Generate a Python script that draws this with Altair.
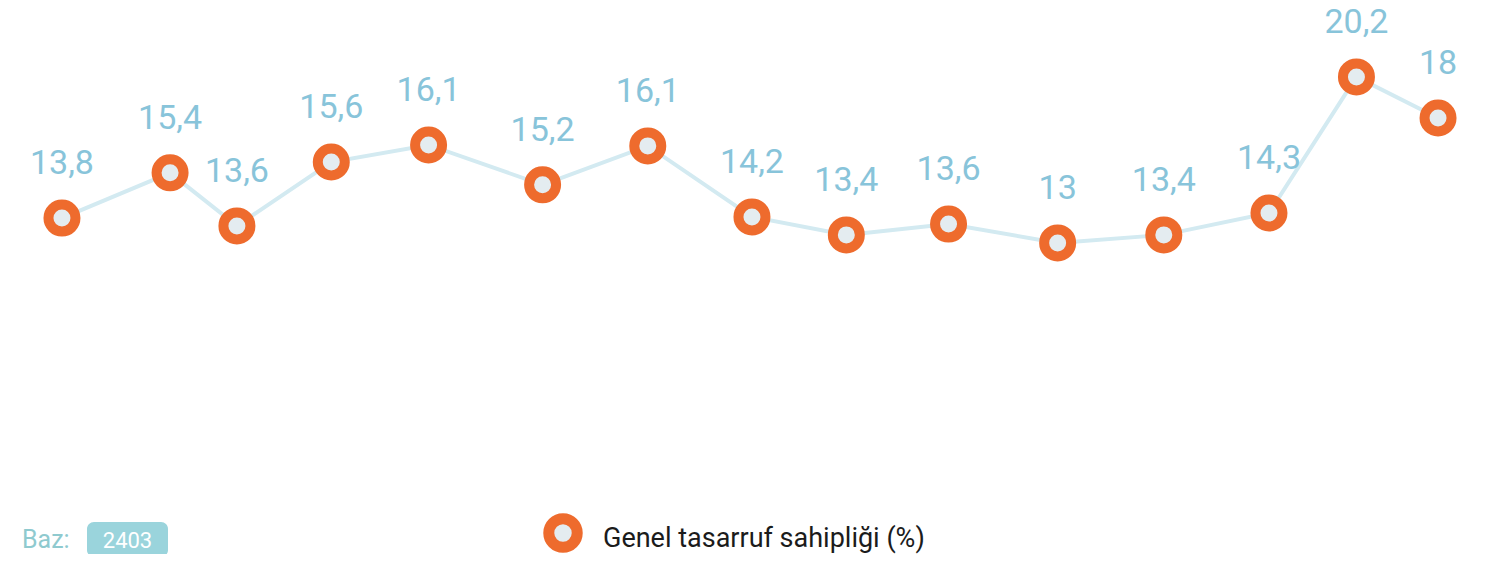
import altair as alt
import pandas as pd

# Data
period = [0, 1.10, 1.78, 2.74, 3.73, 4.89, 5.96, 7.02, 7.98, 9.02, 10.13, 11.21, 12.28, 13.17, 14.0]
label_values = [13.8, 15.4, 13.6, 15.6, 16.1, 15.2, 16.1, 14.2, 13.4, 13.6, 13, 13.4, 14.3, 20.2, 18]
plot_levels = [14.08, 16.04, 13.74, 16.51, 17.25, 15.52, 17.21, 14.13, 13.35, 13.82, 13.0, 13.35, 14.30, 20.2, 18.42]
series_name = "Genel tasarruf sahipliği (%)"
base_label = "Baz:"
base_value = "2403"

df = pd.DataFrame({
    "period": period,
    "level": plot_levels,
    "label": [f"{v:g}".replace(".", ",") for v in label_values],
})

W, H = 1472, 546
xs = alt.Scale(domain=[-0.549, 14.427], nice=False, zero=False)
ys = alt.Scale(domain=[-0.49, 23.19], nice=False, zero=False)

FONT = "Roboto"
ORANGE = "#EE6B2D"
INNER = "#E4ECF0"
LINE = "#D3EAF1"
LABEL = "#88C4DA"

base = alt.Chart(df).encode(
    x=alt.X("period:Q", scale=xs, axis=None),
    y=alt.Y("level:Q", scale=ys, axis=None),
)

line = base.mark_line(color=LINE, strokeWidth=4)
points = base.mark_point(filled=True, fill=INNER, stroke=ORANGE, strokeWidth=10,
                         size=729, opacity=1, strokeOpacity=1, fillOpacity=1, shape="circle")
labels = base.mark_text(font=FONT, fontSize=34, color=LABEL, dy=-44,
                        baseline="alphabetic", align="center").encode(text="label:N")

leg_df = pd.DataFrame({"name": [series_name], "baz": [base_label], "n": [base_value]})
leg = alt.Chart(leg_df)
leg_point = leg.mark_point(filled=True, fill=INNER, stroke=ORANGE, strokeWidth=11,
                           size=810, opacity=1, shape="circle").encode(
    x=alt.value(555), y=alt.value(525))
leg_text = leg.mark_text(font=FONT, fontSize=27, color="#1B1B1B", align="left",
                         baseline="alphabetic").encode(
    x=alt.value(595), y=alt.value(539), text="name:N")
baz_text = leg.mark_text(font=FONT, fontSize=25, color="#8FCACF", align="left",
                         baseline="alphabetic").encode(
    x=alt.value(14), y=alt.value(540), text="baz:N")
baz_box = leg.mark_rect(color="#9AD4DC", cornerRadius=7).encode(
    x=alt.value(79), x2=alt.value(160), y=alt.value(514), y2=alt.value(549))
baz_num = leg.mark_text(font=FONT, fontSize=22, color="white", align="center",
                        baseline="alphabetic").encode(
    x=alt.value(119.5), y=alt.value(540), text="n:N")

chart = alt.layer(line, points, labels, leg_point, leg_text, baz_box, baz_text, baz_num).properties(
    width=W, height=H, padding=0,
    autosize=alt.AutoSizeParams(type="none"),
).configure_view(stroke=None)

chart.save("out.html", embed_options={"renderer": "svg", "actions": False})
